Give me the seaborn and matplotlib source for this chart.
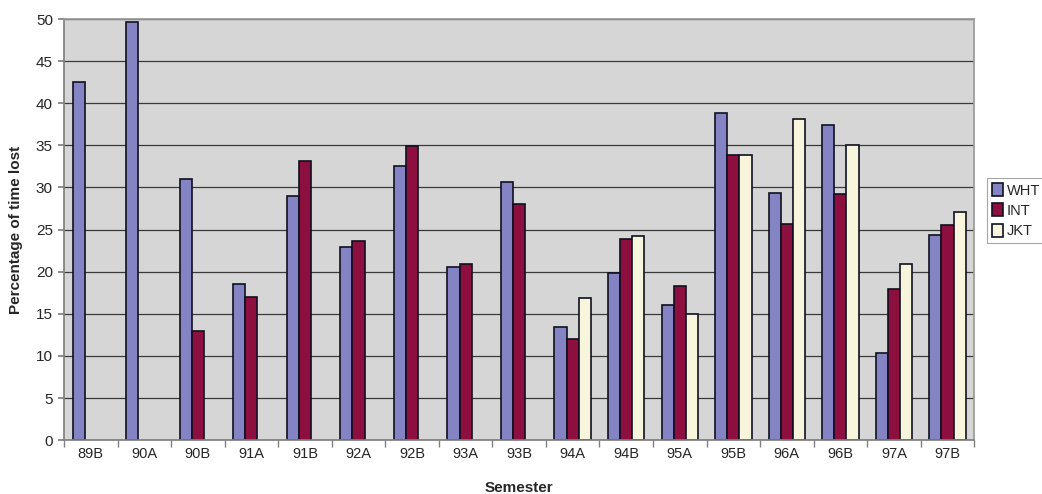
import numpy as np
import pandas as pd
import matplotlib
matplotlib.use("Agg")
import matplotlib.pyplot as plt
import seaborn as sns
from matplotlib.ticker import FixedLocator

semesters = ["89B", "90A", "90B", "91A", "91B", "92A", "92B", "93A", "93B",
             "94A", "94B", "95A", "95B", "96A", "96B", "97A", "97B"]
wht = [42.5, 49.6, 31.0, 18.5, 29.0, 22.9, 32.5, 20.5, 30.7,
       13.4, 19.8, 16.0, 38.9, 29.4, 37.4, 10.3, 24.3]
int_ = [np.nan, np.nan, 13.0, 17.0, 33.1, 23.7, 34.9, 20.9, 28.0,
        12.0, 23.9, 18.3, 33.9, 25.7, 29.2, 17.9, 25.5]
jkt = [np.nan, np.nan, np.nan, np.nan, np.nan, np.nan, np.nan, np.nan, np.nan,
       16.9, 24.2, 15.0, 33.8, 38.1, 35.1, 20.9, 27.1]
series = ["WHT", "INT", "JKT"]
colors = ["#8484C4", "#8C0F3F", "#F7F5DC"]

df = pd.DataFrame({"Semester": semesters * 3,
                   "Series": sum([[s] * len(semesters) for s in series], []),
                   "Value": wht + int_ + jkt})

sns.set_theme(style="white")
plt.rcParams['font.family'] = ['Liberation Sans', 'DejaVu Sans']

fig = plt.figure(figsize=(10.42, 4.94), dpi=100)
ax = fig.add_axes([0.0614, 0.109, 0.8736, 0.8525])
ax.set_facecolor("#D6D6D6")
sns.barplot(data=df, x="Semester", y="Value", hue="Series", order=semesters,
            hue_order=series, palette=colors, width=0.68, ax=ax,
            edgecolor="#101020", linewidth=1.2, saturation=1, errorbar=None)

ax.set_ylim(0, 50)
ax.set_xlim(-0.5, len(semesters) - 0.5)
ax.set_yticks(range(0, 51, 5))
ax.yaxis.grid(True, color="#3a3a3a", linewidth=0.9)
ax.set_axisbelow(True)
for s in ["top", "right"]:
    ax.spines[s].set_color("#9a9a9a")
for s in ["left", "bottom"]:
    ax.spines[s].set_color("#808080")
ax.tick_params(axis="y", length=4, color="#808080", labelsize=11, left=True, pad=4)
ax.tick_params(axis="x", length=0, labelsize=10.5, pad=5)
ax.xaxis.set_minor_locator(FixedLocator(np.arange(-0.5, len(semesters), 1)))
ax.tick_params(axis="x", which="minor", length=5, color="#808080", bottom=True)
ax.set_xlabel("Semester", fontsize=11, fontweight="bold", labelpad=14)
ax.set_ylabel("Percentage of time lost", fontsize=11, fontweight="bold", labelpad=9)

leg = ax.legend(loc="center left", bbox_to_anchor=(1.011, 0.545), frameon=True,
                fontsize=10.5, handlelength=0.75, handleheight=1.0, handletextpad=0.25,
                borderpad=0.35, borderaxespad=0.2, labelspacing=0.4, fancybox=False)
leg.get_frame().set_edgecolor("#909090")
leg.get_frame().set_linewidth(0.8)

fig.savefig("out.png", dpi=100, facecolor="white")
